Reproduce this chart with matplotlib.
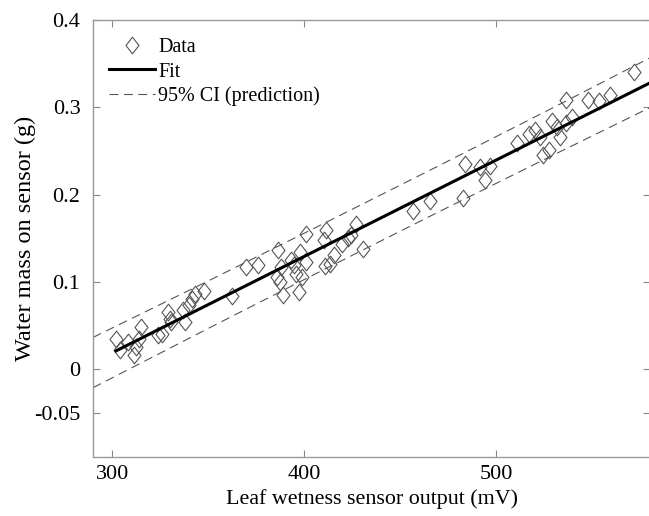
import matplotlib
matplotlib.use("Agg")
import matplotlib.pyplot as plt
from matplotlib.path import Path

# Data
sensor_mv = [301.9, 304.3, 308.0, 311.1, 312.4, 314.8, 313.9, 324.1, 326.0, 329.1,
             330.2, 330.6, 337.7, 337.1, 339.9, 341.7, 343.0, 347.7, 362.2, 369.9,
             376.1, 386.3, 385.7, 387.6, 389.1, 388.1, 393.3, 394.6, 395.9, 397.4,
             397.8, 398.9, 400.7, 400.7, 410.4, 411.3, 410.8, 413.2, 415.6, 419.7,
             423.0, 424.3, 427.1, 430.4, 456.8, 465.5, 482.4, 483.7, 491.6, 494.2,
             496.7, 510.6, 517.1, 519.9, 522.6, 524.5, 527.3, 529.1, 531.4, 533.2,
             536.2, 536.5, 539.3, 547.7, 553.6, 559.2, 571.8]
water_g = [0.0351, 0.0218, 0.0313, 0.0160, 0.0256, 0.0485, 0.0351, 0.0389, 0.0408, 0.0656,
           0.0580, 0.0542, 0.0542, 0.0676, 0.0733, 0.0809, 0.0866, 0.0897, 0.0836, 0.1172,
           0.1198, 0.1370, 0.1057, 0.1000, 0.0847, 0.1172, 0.1248, 0.1191, 0.1095, 0.0885,
           0.1344, 0.1057, 0.1229, 0.1553, 0.1477, 0.1592, 0.1179, 0.1210, 0.1305, 0.1439,
           0.1508, 0.1534, 0.1660, 0.1382, 0.1813, 0.1927, 0.1966, 0.2355, 0.2317, 0.2164,
           0.2328, 0.2595, 0.2691, 0.2737, 0.2660, 0.2458, 0.2508, 0.2844, 0.2775, 0.2660,
           0.3080, 0.2821, 0.2889, 0.3080, 0.3073, 0.3141, 0.3405]

fit_x = [302, 580]
fit_y = [0.021, 0.328]

ci_x = [290, 350, 410, 470, 530, 580]
ci_upper = [0.0364, 0.1011, 0.1667, 0.2330, 0.3001, 0.3567]
ci_lower = [-0.0212, 0.0467, 0.1139, 0.1802, 0.2457, 0.2997]

xticks = [300, 400, 500]
yticks = [-0.05, 0, 0.1, 0.2, 0.3, 0.4]
ytick_labels = ["-0.05", "0", "0.1", "0.2", "0.3", "0.4"]

plt.rcParams["font.family"] = ["Liberation Serif", "DejaVu Serif"]

fig = plt.figure(figsize=(6.49, 5.16), dpi=100)
ax = fig.add_axes([93 / 649, 59.5 / 516, 557 / 649, 436.5 / 516])

# slightly tall diamond like MATLAB's
diamond = Path([(0, 1), (0.78, 0), (0, -1), (-0.78, 0), (0, 1)],
               [Path.MOVETO, Path.LINETO, Path.LINETO, Path.LINETO, Path.CLOSEPOLY])

ax.plot(sensor_mv, water_g, linestyle="none", marker=diamond, markersize=12,
        markerfacecolor="none", markeredgecolor="#555555", markeredgewidth=0.8,
        label="Data")
ax.plot(fit_x, fit_y, color="black", linewidth=2.2, label="Fit")
ax.plot(ci_x, ci_upper, color="#555555", linewidth=0.8, dashes=(8, 5),
        label="95% CI (prediction)")
ax.plot(ci_x, ci_lower, color="#555555", linewidth=0.8, dashes=(8, 5))

ax.set_xlim(290, 580)
ax.set_ylim(-0.1, 0.4)
ax.set_xticks(xticks)
ax.set_yticks(yticks)
ax.set_yticklabels(ytick_labels)
ax.tick_params(direction="in", length=5, width=0.8, color="#888888",
               top=True, right=True, labelsize=16)
ax.tick_params(axis="y", pad=9)
ax.tick_params(axis="x", pad=6)
for s in ax.spines.values():
    s.set_color("#999999")
    s.set_linewidth(1.0)

ax.set_xlabel("Leaf wetness sensor output (mV)", fontsize=15.8, labelpad=4)
ax.set_ylabel("Water mass on sensor (g)", fontsize=17.5)
ax.yaxis.set_label_coords(-0.102, 0.5)

ax.legend(loc="upper left", bbox_to_anchor=(0.0, 0.995), frameon=False,
          fontsize=14.5, handlelength=2.3, handletextpad=0.15, labelspacing=0.25,
          borderaxespad=0.4)

plt.savefig("out.png", dpi=100)
